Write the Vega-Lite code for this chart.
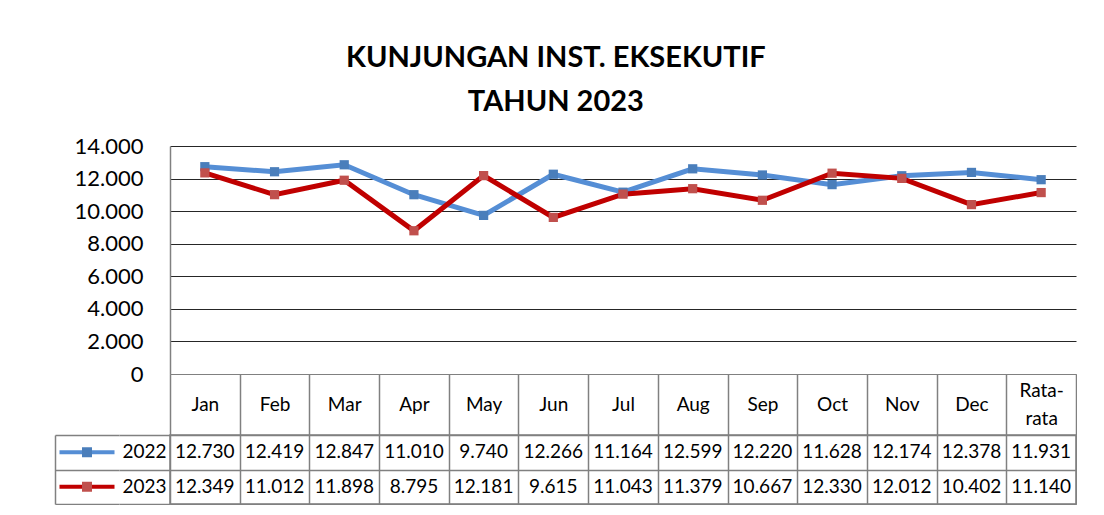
{
  "$schema": "https://vega.github.io/schema/vega-lite/v6.json",
  "padding": {"left": 55, "top": 44, "right": 0, "bottom": 0},
  "autosize": {"type": "pad"},
  "background": "white",
  "config": {
    "locale": {"number": {"decimal": ",", "thousands": ".", "grouping": [3], "currency": ["Rp", ""]}},
    "font": "Lato",
    "view": {"stroke": null}
  },
  "title": {
    "text": ["KUNJUNGAN INST. EKSEKUTIF", "TAHUN 2023"],
    "fontSize": 29,
    "fontWeight": "bold",
    "lineHeight": 44,
    "anchor": "middle",
    "dx": -10,
    "offset": 18,
    "color": "black",
    "font": "Lato"
  },
  "datasets": {
    "kunjungan": [
      {"bulan": "Jan", "tahun": "2022", "kunjungan": 12730},
      {"bulan": "Feb", "tahun": "2022", "kunjungan": 12419},
      {"bulan": "Mar", "tahun": "2022", "kunjungan": 12847},
      {"bulan": "Apr", "tahun": "2022", "kunjungan": 11010},
      {"bulan": "May", "tahun": "2022", "kunjungan": 9740},
      {"bulan": "Jun", "tahun": "2022", "kunjungan": 12266},
      {"bulan": "Jul", "tahun": "2022", "kunjungan": 11164},
      {"bulan": "Aug", "tahun": "2022", "kunjungan": 12599},
      {"bulan": "Sep", "tahun": "2022", "kunjungan": 12220},
      {"bulan": "Oct", "tahun": "2022", "kunjungan": 11628},
      {"bulan": "Nov", "tahun": "2022", "kunjungan": 12174},
      {"bulan": "Dec", "tahun": "2022", "kunjungan": 12378},
      {"bulan": "Rata-rata", "tahun": "2022", "kunjungan": 11931},
      {"bulan": "Jan", "tahun": "2023", "kunjungan": 12349},
      {"bulan": "Feb", "tahun": "2023", "kunjungan": 11012},
      {"bulan": "Mar", "tahun": "2023", "kunjungan": 11898},
      {"bulan": "Apr", "tahun": "2023", "kunjungan": 8795},
      {"bulan": "May", "tahun": "2023", "kunjungan": 12181},
      {"bulan": "Jun", "tahun": "2023", "kunjungan": 9615},
      {"bulan": "Jul", "tahun": "2023", "kunjungan": 11043},
      {"bulan": "Aug", "tahun": "2023", "kunjungan": 11379},
      {"bulan": "Sep", "tahun": "2023", "kunjungan": 10667},
      {"bulan": "Oct", "tahun": "2023", "kunjungan": 12330},
      {"bulan": "Nov", "tahun": "2023", "kunjungan": 12012},
      {"bulan": "Dec", "tahun": "2023", "kunjungan": 10402},
      {"bulan": "Rata-rata", "tahun": "2023", "kunjungan": 11140}
    ]
  },
  "columns": 3,
  "spacing": {"row": 61, "column": 0},
  "bounds": "flush",
  "resolve": {"scale": {"x": "independent", "y": "independent", "color": "shared", "fill": "shared"}},
  "concat": [
    {
      "width": 64, "height": 228,
      "data": {"values": [{"k": 1}]},
      "mark": {"type": "text", "text": ""}
    },
    {
      "width": 51, "height": 228,
      "data": {"values": [{"k": 1}]},
      "mark": {"type": "text", "text": ""}
    },
    {
      "width": 906, "height": 228,
      "data": {"name": "kunjungan"},
      "encoding": {
        "x": {
          "field": "bulan", "type": "nominal",
          "sort": ["Jan", "Feb", "Mar", "Apr", "May", "Jun", "Jul", "Aug", "Sep", "Oct", "Nov", "Dec", "Rata-rata"],
          "bandPosition": 0.5,
          "scale": {"type": "band", "paddingInner": 0, "paddingOuter": 0},
          "axis": {
            "title": null, "orient": "bottom", "grid": false,
            "domain": true, "domainColor": "#808080", "domainWidth": 1,
            "ticks": true, "tickBand": "extent", "tickSize": 61, "tickColor": "#808080", "tickWidth": 1.5,
            "labelFontSize": 19, "labelColor": "black", "labelAngle": 0,
            "labelPadding": {"condition": {"test": "datum.value == 'Rata-rata'", "value": -45}, "value": -31},
            "labelBaseline": "middle", "labelLineHeight": 28,
            "labelOverlap": false, "labelFlush": false,
            "labelExpr": "datum.value == 'Rata-rata' ? ['Rata-', 'rata'] : datum.value"
          }
        },
        "y": {
          "field": "kunjungan", "type": "quantitative",
          "scale": {"domain": [0, 14000], "nice": false},
          "axis": {
            "title": null,
            "values": [0, 2000, 4000, 6000, 8000, 10000, 12000, 14000],
            "format": ",d",
            "labelFontSize": 22, "labelColor": "black", "labelPadding": 27,
            "ticks": false,
            "domain": true, "domainColor": "#808080", "domainWidth": 1.5,
            "grid": true,
            "gridColor": {"condition": {"test": "datum.value === 0", "value": "#808080"}, "value": "#262626"},
            "gridWidth": 1
          }
        }
      },
      "layer": [
        {
          "mark": {"type": "line", "strokeWidth": 5},
          "encoding": {
            "color": {"field": "tahun", "type": "nominal", "scale": {"domain": ["2022", "2023"], "range": ["#558ED5", "#C00000"]}, "legend": null}
          }
        },
        {
          "mark": {"type": "point", "shape": "square", "filled": true, "size": 85, "opacity": 1},
          "encoding": {
            "fill": {"field": "tahun", "type": "nominal", "scale": {"domain": ["2022", "2023"], "range": ["#4A7EBB", "#C0504D"]}, "legend": null}
          }
        }
      ]
    },
    {
      "width": 64, "height": 69,
      "data": {"name": "kunjungan"},
      "transform": [{"filter": "datum.bulan == 'Jan'"}],
      "encoding": {
        "y": {
          "field": "tahun", "type": "nominal", "sort": ["2022", "2023"],
          "scale": {"type": "band", "paddingInner": 0, "paddingOuter": 0},
          "axis": {"title": null, "labels": false, "ticks": false, "domain": true, "domainColor": "#808080", "domainWidth": 1.5, "grid": true, "gridColor": "#808080", "gridWidth": 1.5, "tickBand": "extent"}
        }
      },
      "layer": [
        {
          "mark": {"type": "point", "shape": "M-1,-0.075L1,-0.075L1,0.075L-1,0.075Z", "filled": true, "size": 3025, "opacity": 1},
          "encoding": {
            "color": {"field": "tahun", "type": "nominal", "scale": {"domain": ["2022", "2023"], "range": ["#558ED5", "#C00000"]}, "legend": null}
          }
        },
        {
          "mark": {"type": "point", "shape": "square", "filled": true, "size": 100, "opacity": 1},
          "encoding": {
            "fill": {"field": "tahun", "type": "nominal", "scale": {"domain": ["2022", "2023"], "range": ["#4A7EBB", "#C0504D"]}, "legend": null}
          }
        }
      ]
    },
    {
      "width": 51, "height": 69,
      "data": {"name": "kunjungan"},
      "transform": [{"filter": "datum.bulan == 'Jan'"}],
      "mark": {"type": "text", "fontSize": 19, "color": "black"},
      "encoding": {
        "y": {
          "field": "tahun", "type": "nominal", "sort": ["2022", "2023"],
          "scale": {"type": "band", "paddingInner": 0, "paddingOuter": 0},
          "axis": {"title": null, "labels": false, "ticks": false, "domain": false, "grid": true, "gridColor": "#808080", "gridWidth": 1.5, "tickBand": "extent"}
        },
        "text": {"field": "tahun", "type": "nominal"}
      }
    },
    {
      "width": 906, "height": 69,
      "data": {"name": "kunjungan"},
      "view": {"stroke": "#808080", "strokeWidth": 1.5},
      "mark": {"type": "text", "fontSize": 19, "color": "black"},
      "encoding": {
        "x": {
          "field": "bulan", "type": "nominal",
          "sort": ["Jan", "Feb", "Mar", "Apr", "May", "Jun", "Jul", "Aug", "Sep", "Oct", "Nov", "Dec", "Rata-rata"],
          "scale": {"type": "band", "paddingInner": 0, "paddingOuter": 0},
          "axis": {"title": null, "labels": false, "ticks": false, "domain": false, "grid": true, "gridColor": "#808080", "gridWidth": 1.5, "tickBand": "extent"}
        },
        "y": {
          "field": "tahun", "type": "nominal", "sort": ["2022", "2023"],
          "scale": {"type": "band", "paddingInner": 0, "paddingOuter": 0},
          "axis": {"title": null, "labels": false, "ticks": false, "domain": false, "grid": true, "gridColor": "#808080", "gridWidth": 1.5, "tickBand": "extent"}
        },
        "text": {"field": "kunjungan", "type": "quantitative", "format": ",d"}
      }
    }
  ]
}
